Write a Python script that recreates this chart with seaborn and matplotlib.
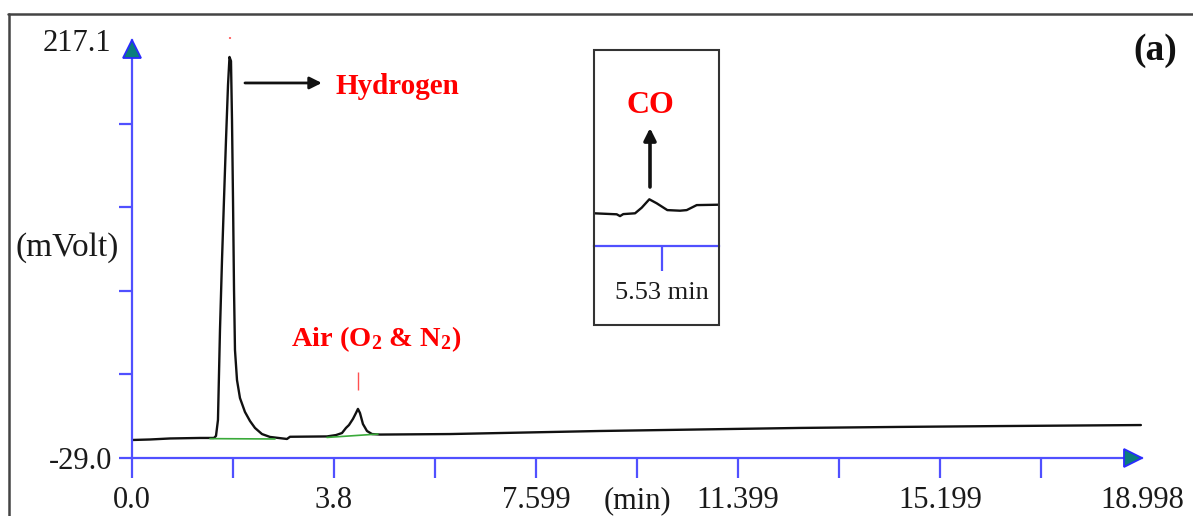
import matplotlib
matplotlib.use('Agg')
import matplotlib.pyplot as plt
import seaborn as sns
from matplotlib.transforms import ScaledTranslation
from matplotlib.lines import Line2D
from matplotlib.patches import Rectangle

# ---------------- data ----------------
time_min = [0.000, 0.339, 0.715, 1.279, 1.542, 1.580, 1.617, 1.655, 1.693, 1.730,
            1.768, 1.806, 1.834, 1.862, 1.881, 1.900, 1.919, 1.937, 1.975, 2.031,
            2.125, 2.219, 2.313, 2.445, 2.595, 2.915, 2.972, 3.667, 3.837, 3.950,
            4.025, 4.081, 4.156, 4.213, 4.250, 4.288, 4.344, 4.420, 4.514, 4.664,
            5.981, 6.921, 7.862, 8.802, 10.683, 12.564, 14.444, 16.325, 18.977]
signal_mv = [-18.4, -18.1, -17.5, -17.2, -17.2, -16.0, -6.6, 46.4, 87.6, 122.9,
             158.2, 190.6, 207.1, 204.7, 170.0, 122.9, 69.9, 34.6, 16.9, 6.3,
             -1.9, -7.2, -11.3, -14.9, -16.6, -17.8, -16.5, -16.3, -15.5, -14.3,
             -11.3, -9.6, -6.0, -2.5, -0.1, -2.5, -9.0, -13.1, -14.9, -15.2,
             -14.9, -14.3, -13.7, -13.1, -12.2, -11.3, -10.7, -10.2, -9.6]

# integration baselines (green)
h2_base_t = [1.467, 2.690]
h2_base_v = [-17.6, -17.8]
air_base_t = [3.667, 4.627]
air_base_v = [-16.9, -14.9]

# peak markers (red)
marker_t = [1.834, 4.250]
marker_lo = [217.6, 11.0]
marker_hi = [218.8, 21.6]

# inset (zoom on CO peak)
inset_t = [4.877, 5.095, 5.127, 5.158, 5.271, 5.335, 5.408, 5.479, 5.581, 5.703,
           5.767, 5.863, 6.080]
inset_v = [-13.90, -13.95, -14.04, -13.94, -13.90, -13.62, -13.20, -13.40, -13.74,
           -13.77, -13.74, -13.49, -13.47]
inset_tick = [5.53]
inset_tick_label = ['5.53 min']

# axes ticks
x_ticks = [0.0, 1.9, 3.8, 5.699, 7.599, 9.499, 11.399, 13.299, 15.199, 17.098]
x_labels = ['0.0', '', '3.8', '', '7.599', '(min)', '11.399', '', '15.199', '']
x_end = [18.998]
x_end_label = ['18.998']
y_ticks = [-29.0, 20.22, 69.44, 118.66, 167.88]
y_labels = ['-29.0', '', '', '', '']
y_end = [217.1]
y_end_label = ['217.1']

# ---------------- style ----------------
sns.set_theme(style='white')
plt.rcParams['font.family'] = ['Liberation Serif', 'DejaVu Serif']
plt.rcParams['mathtext.fontset'] = 'custom'
plt.rcParams['mathtext.rm'] = 'Liberation Serif:bold'
plt.rcParams['mathtext.it'] = 'Liberation Serif:bold'
plt.rcParams['mathtext.bf'] = 'Liberation Serif:bold'

BLUE = '#5050ff'
TEAL = '#0b7d7d'
W, H = 1193, 516

fig = plt.figure(figsize=(W / 100, H / 100), dpi=100)
fig.patch.set_facecolor('white')

def fx(px):
    return px / W

def fy(py):
    return (H - py) / H

ax = fig.add_axes([fx(132), fy(458), fx(1142) - fx(132), fy(40) - fy(458)])
ax.set_facecolor('none')

sns.lineplot(x=time_min, y=signal_mv, ax=ax, color='#111111', linewidth=1.7, sort=False)
sns.lineplot(x=h2_base_t, y=h2_base_v, ax=ax, color='#3aaa3a', linewidth=1.2, sort=False)
sns.lineplot(x=air_base_t, y=air_base_v, ax=ax, color='#3aaa3a', linewidth=1.2, sort=False)
ax.vlines(marker_t[0], marker_lo[0], marker_hi[0], color='#ff7070', lw=1.5, clip_on=False)
ax.vlines(marker_t[1], marker_lo[1], marker_hi[1], color='#ff5050', lw=1.0, clip_on=False)

ax.set_xlim(0, 18.998)
ax.set_ylim(-29.0, 217.1)
ax.set_xlabel('')
ax.set_ylabel('')

for s in ['top', 'right']:
    ax.spines[s].set_visible(False)
for s in ['left', 'bottom']:
    ax.spines[s].set_color(BLUE)
    ax.spines[s].set_linewidth(1.6)

ax.set_xticks(x_ticks)
ax.set_xticklabels(x_labels)
ax.set_xticks(x_end, minor=True)
ax.set_xticklabels(x_end_label, minor=True)
ax.set_yticks(y_ticks)
ax.set_yticklabels(y_labels)
ax.set_yticks(y_end, minor=True)
ax.set_yticklabels(y_end_label, minor=True)

ax.tick_params(axis='x', which='major', direction='out', length=14.5, width=1.6,
               color=BLUE, pad=6, labelsize=22, labelcolor='#1a1a1a', bottom=True)
ax.tick_params(axis='x', which='minor', length=0, pad=20.5, labelsize=22,
               labelcolor='#1a1a1a', bottom=True)
ax.tick_params(axis='y', which='major', direction='out', length=9.5, width=1.6,
               color=BLUE, pad=5, labelsize=22, labelcolor='#1a1a1a', left=True)
ax.tick_params(axis='y', which='minor', length=0, pad=15, labelsize=22,
               labelcolor='#1a1a1a', left=True)

# axis arrow heads
ax.plot(x_end, [y_ticks[0]], marker='>', ms=13.5, mfc=TEAL, mec='#2a2aff', mew=1.3,
        clip_on=False, zorder=6,
        transform=ax.transData + ScaledTranslation(-0.093, 0, fig.dpi_scale_trans))
ax.plot([0.0], y_end, marker='^', ms=13.5, mfc=TEAL, mec='#2a2aff', mew=1.3,
        clip_on=False, zorder=6,
        transform=ax.transData + ScaledTranslation(0, -0.093, fig.dpi_scale_trans))

# annotations
ax.annotate('', xy=(3.57, 191.8), xytext=(2.125, 191.8),
            arrowprops=dict(arrowstyle='-|>', color='#111111', lw=2, mutation_scale=18,
                            shrinkA=0, shrinkB=0))
ax.text(3.837, 185.3, 'Hydrogen', color='#ff0000', fontweight='bold', fontsize=21,
        ha='left', va='baseline')
ax.text(4.589, 36.9, 'Air (O$_2$ & N$_2$)', color='#ff0000', fontweight='bold',
        fontsize=20.5, ha='center', va='baseline')

fig.text(fx(67), fy(248), '(mVolt)', ha='center', va='center', fontsize=24,
         color='#1a1a1a')
fig.text(fx(1155), fy(60), '(a)', ha='center', va='baseline', fontsize=27,
         fontweight='bold', color='#111111')

# outer frame (left and top visible)
fig.add_artist(Line2D([fx(8.5), fx(8.5)], [fy(14), 0], transform=fig.transFigure,
                      color='#444444', lw=1.8))
fig.add_artist(Line2D([fx(8), 1.0], [fy(14), fy(14)], transform=fig.transFigure,
                      color='#444444', lw=1.8))

# inset box
fig.add_artist(Rectangle((fx(594), fy(325)), fx(719) - fx(594), fy(50) - fy(325),
                         transform=fig.transFigure, fill=False, ec='#333333', lw=1.5))

axi = fig.add_axes([fx(594), fy(246), fx(719) - fx(594), fy(50) - fy(246)])
axi.set_facecolor('none')
sns.lineplot(x=inset_t, y=inset_v, ax=axi, color='#111111', linewidth=1.7, sort=False)
axi.set_xlim(4.877, 6.077)
axi.set_ylim(-15.535, -5.735)
axi.set_xlabel('')
axi.set_ylabel('')
for s in ['top', 'right', 'left']:
    axi.spines[s].set_visible(False)
axi.spines['bottom'].set_color(BLUE)
axi.spines['bottom'].set_linewidth(1.6)
axi.set_yticks([])
axi.set_xticks(inset_tick)
axi.set_xticklabels(inset_tick_label)
axi.tick_params(axis='x', direction='out', length=18, width=1.6, color=BLUE, pad=8,
                labelsize=19, labelcolor='#1a1a1a', bottom=True)
axi.text(0.448, 0.680, 'CO', transform=axi.transAxes, color='#ff0000',
         fontweight='bold', fontsize=23, ha='center', va='baseline')
axi.annotate('', xy=(0.448, 0.602), xytext=(0.448, 0.301), xycoords='axes fraction',
             arrowprops=dict(arrowstyle='-|>', color='#111111', lw=2.6, mutation_scale=18,
                             shrinkA=0, shrinkB=0))

fig.savefig('out.png', dpi=100)
